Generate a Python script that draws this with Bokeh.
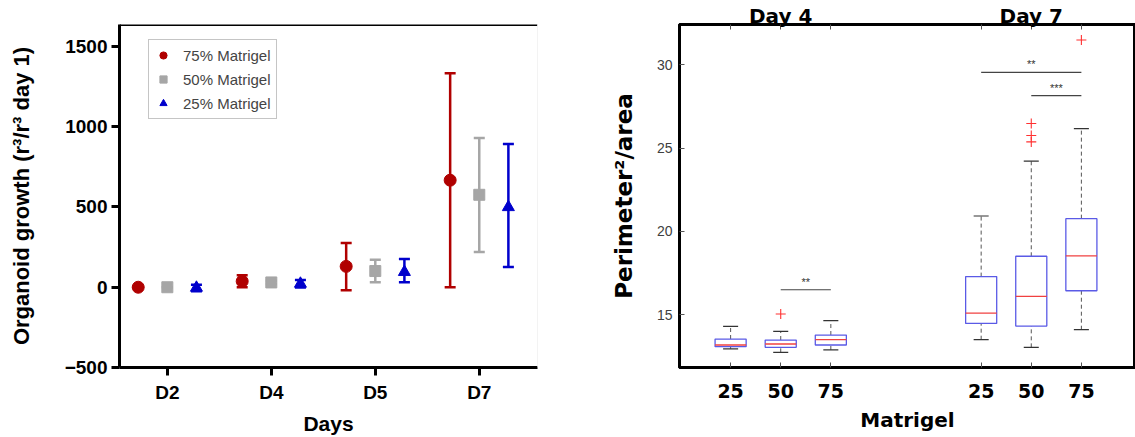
from bokeh.plotting import figure
from bokeh.layouts import row
from bokeh.models import (ColumnDataSource, Whisker, TeeHead, FixedTicker, Span,
                          Legend, LegendItem, LinearAxis, Range1d)
from bokeh.core.properties import value
from bokeh.embed import file_html
from bokeh.resources import INLINE

# ---------------- Left panel data ----------------
days = ["D2", "D4", "D5", "D7"]
series_names = ["75% Matrigel", "50% Matrigel", "25% Matrigel"]
mean_75 = [0, 37, 130, 667]
low_75 = [0, 0, -18, 0]
high_75 = [0, 75, 275, 1333]
mean_50 = [0, 30, 101, 576]
low_50 = [0, 20, 31, 219]
high_50 = [0, 40, 172, 930]
mean_25 = [-3, 22, 95, 499]
low_25 = [-25, -2, 31, 126]
high_25 = [15, 45, 176, 893]
y_ticks_left = [-500, 0, 500, 1000, 1500]

# ---------------- Right panel data ----------------
day_groups = ["Day 4", "Day 7"]
matrigel_levels = ["25", "50", "75"]
whisk_lo = [12.95, 12.74, 12.89, 13.50, 13.04, 14.10]
q1 = [13.08, 13.04, 13.18, 14.48, 14.32, 16.44]
median = [13.18, 13.24, 13.50, 15.10, 16.10, 18.53]
q3 = [13.54, 13.48, 13.78, 17.29, 18.51, 20.77]
whisk_hi = [14.30, 14.00, 14.64, 20.93, 24.22, 26.18]
outlier_box = [1, 4, 4, 4, 5]
outlier_val = [15.04, 26.48, 25.76, 25.38, 31.5]
sig_from = [1, 3, 4]
sig_to = [2, 5, 5]
sig_y = [16.5, 29.55, 28.16]
sig_text = ["**", "**", "***"]
y_ticks_right = [15, 20, 25, 30]

# ================= Left figure =================
LF = "Liberation Sans"
p1 = figure(width=600, height=437, x_range=Range1d(0.54, 4.56), y_range=Range1d(-500, 1637),
            output_backend="svg", toolbar_location=None,
            min_border_left=119, min_border_right=63, min_border_top=24, min_border_bottom=70)
p1.outline_line_color = None
p1.xgrid.visible = False
p1.ygrid.visible = False

colors = ["#b00000", "#a6a6a6", "#0000cc"]
markers = ["circle", "square", "triangle"]
sizes = [12, 11, 12]
legend_sizes = [7, 7, 8]
offsets = [-0.28, 0.0, 0.28]
means = [mean_75, mean_50, mean_25]
lows = [low_75, low_50, low_25]
highs = [high_75, high_50, high_25]

legend_items = []
for i in range(3):
    xs = [k + 1 + offsets[i] for k in range(len(days))]
    src = ColumnDataSource(dict(x=xs, y=means[i], lo=lows[i], hi=highs[i]))
    # small markers (hidden beneath the large ones) used as legend swatches
    lr = p1.scatter("x", "y", source=src, marker=markers[i], size=legend_sizes[i],
                    fill_color=colors[i], line_color=colors[i])
    w = Whisker(source=src, base="x", lower="lo", upper="hi", dimension="height",
                line_color=colors[i], line_width=2.5,
                upper_head=TeeHead(size=11, line_color=colors[i], line_width=2.5),
                lower_head=TeeHead(size=11, line_color=colors[i], line_width=2.5))
    p1.add_layout(w)
    p1.scatter("x", "y", source=src, marker=markers[i], size=sizes[i],
               fill_color=colors[i], line_color=colors[i])
    legend_items.append(LegendItem(label=series_names[i], renderers=[lr]))

legend = Legend(items=legend_items, location=(29, 248), orientation="vertical",
                label_text_font=LF, label_text_font_size="15px",
                glyph_height=20, glyph_width=18, label_standoff=11, spacing=4,
                padding=5, margin=0, border_line_color="#8c8c8c", border_line_width=1,
                background_fill_color="white", background_fill_alpha=1.0)
p1.add_layout(legend)

p1.xaxis.ticker = FixedTicker(ticks=[k + 1 for k in range(len(days))])
p1.xaxis.major_label_overrides = {k + 1: d for k, d in enumerate(days)}
p1.yaxis.ticker = FixedTicker(ticks=y_ticks_left)
for ax in (p1.xaxis[0], p1.yaxis[0]):
    ax.axis_line_width = 3
    ax.axis_line_color = "black"
    ax.major_tick_line_width = 3
    ax.major_tick_line_color = "black"
    ax.major_tick_out = 8
    ax.major_tick_in = 0
    ax.minor_tick_line_color = None
    ax.major_label_text_font = LF
    ax.major_label_text_font_style = "bold"
    ax.major_label_text_font_size = "19px"
    ax.major_label_text_color = "black"
    ax.axis_label_text_font = LF
    ax.axis_label_text_font_style = "bold"
    ax.axis_label_text_color = "black"
p1.xaxis.axis_label = "Days"
p1.xaxis.axis_label_text_font_size = "21px"
p1.xaxis.major_label_standoff = 6
p1.xaxis.axis_label_standoff = 6
p1.yaxis.axis_label = "Organoid growth (r³/r³ day 1)"
p1.yaxis.axis_label_text_font_size = "22px"
p1.yaxis.major_label_standoff = 4
p1.yaxis.axis_label_standoff = 28
p1.add_layout(Span(location=1637, dimension="width", line_color="black", line_width=3))
p1.add_layout(Span(location=4.56, dimension="height", line_color="#e8e8e8", line_width=1))

# ================= Right figure =================
RF = "DejaVu Sans"
positions = [g * 5 + k + 1 for g in range(len(day_groups)) for k in range(len(matrigel_levels))]
p2 = figure(width=535, height=437, x_range=Range1d(-0.02, 9.08), y_range=Range1d(11.83, 32.43),
            output_backend="svg", toolbar_location=None,
            min_border_left=79, min_border_right=0, min_border_top=23, min_border_bottom=70)
p2.outline_line_color = "black"
p2.outline_line_width = 3
p2.xgrid.visible = False
p2.ygrid.visible = False

bw = 0.62
cw = 0.3
bsrc = ColumnDataSource(dict(x=positions, lo=whisk_lo, q1=q1, med=median, q3=q3, hi=whisk_hi,
                             left=[x - bw / 2 for x in positions], right=[x + bw / 2 for x in positions],
                             cl=[x - cw / 2 for x in positions], cr=[x + cw / 2 for x in positions]))
p2.segment("x", "q3", "x", "hi", source=bsrc, line_color="#555555", line_width=1, line_dash="4 3")
p2.segment("x", "lo", "x", "q1", source=bsrc, line_color="#555555", line_width=1, line_dash="4 3")
p2.segment("cl", "hi", "cr", "hi", source=bsrc, line_color="#333333", line_width=1.2)
p2.segment("cl", "lo", "cr", "lo", source=bsrc, line_color="#333333", line_width=1.2)
p2.quad(left="left", right="right", bottom="q1", top="q3", source=bsrc,
        fill_color="white", line_color="#5a5ae6", line_width=1.3)
p2.segment("left", "med", "right", "med", source=bsrc, line_color="#f04040", line_width=1.3)

osrc = ColumnDataSource(dict(x=[positions[i] for i in outlier_box], y=outlier_val))
p2.scatter("x", "y", source=osrc, marker="cross", size=10, line_color="#ff3030", line_width=1.1)

ssrc = ColumnDataSource(dict(x0=[positions[i] for i in sig_from], x1=[positions[i] for i in sig_to],
                             y=sig_y, xm=[(positions[a] + positions[b]) / 2 for a, b in zip(sig_from, sig_to)],
                             t=sig_text))
p2.segment("x0", "y", "x1", "y", source=ssrc, line_color="#444444", line_width=1.2)
p2.text("xm", "y", text="t", source=ssrc, text_align="center", text_baseline="bottom",
        text_font=value(LF), text_font_size="11px", text_color="#333333", y_offset=-2)

p2.xaxis.ticker = FixedTicker(ticks=positions)
p2.xaxis.major_label_overrides = {positions[i]: matrigel_levels[i % 3] for i in range(len(positions))}
p2.yaxis.ticker = FixedTicker(ticks=y_ticks_right)
for ax in (p2.xaxis[0], p2.yaxis[0]):
    ax.axis_line_width = 3
    ax.axis_line_color = "black"
    ax.major_tick_line_width = 1
    ax.major_tick_line_color = "#555555"
    ax.major_tick_out = 0
    ax.major_tick_in = 5
    ax.minor_tick_line_color = None
    ax.axis_label_text_font = RF
    ax.axis_label_text_font_style = "bold"
    ax.axis_label_text_color = "black"
p2.xaxis.major_label_text_font = RF
p2.xaxis.major_label_text_font_style = "bold"
p2.xaxis.major_label_text_font_size = "19px"
p2.xaxis.major_label_text_color = "black"
p2.xaxis.major_label_standoff = 16
p2.xaxis.axis_label = "Matrigel"
p2.xaxis.axis_label_text_font_size = "20px"
p2.xaxis.axis_label_standoff = 7
p2.yaxis.major_label_text_font = LF
p2.yaxis.major_label_text_font_style = "normal"
p2.yaxis.major_label_text_font_size = "14px"
p2.yaxis.major_label_text_color = "#404040"
p2.yaxis.major_label_standoff = 7
p2.yaxis.axis_label = "Perimeter²/area"
p2.yaxis.axis_label_text_font_size = "23px"
p2.yaxis.axis_label_standoff = 17

# top axis carrying the day-group titles and inward ticks
title_map = {positions[i]: (day_groups[i // 3] if i % 3 == 1 else "") for i in range(len(positions))}
top_axis = LinearAxis(ticker=FixedTicker(ticks=positions), major_label_overrides=title_map,
                      axis_line_width=3, axis_line_color="black",
                      major_tick_in=5, major_tick_out=0, major_tick_line_width=1,
                      major_tick_line_color="#555555", minor_tick_line_color=None,
                      major_label_text_font=RF, major_label_text_font_style="bold",
                      major_label_text_font_size="20px", major_label_text_color="black",
                      major_label_standoff=-3)
p2.add_layout(top_axis, "above")

layout = row(p1, p2)
open("out.html", "w").write(file_html(layout, INLINE))
